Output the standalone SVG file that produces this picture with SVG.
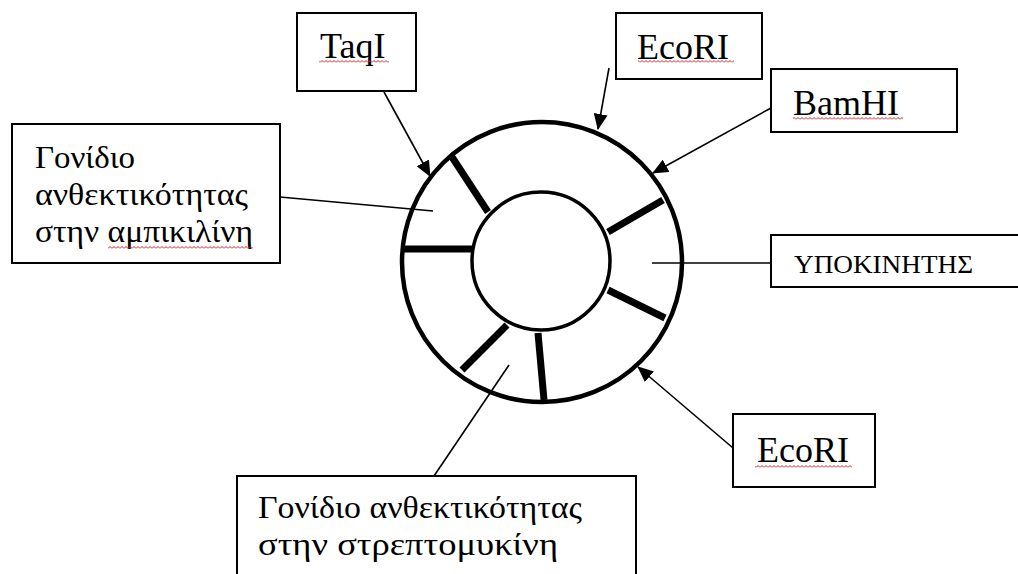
<svg xmlns="http://www.w3.org/2000/svg" width="1018" height="574" viewBox="0 0 1018 574">
<style>
.box{fill:#fff;stroke:#000;stroke-width:2}
.t{font-family:"Liberation Serif","Times New Roman",serif;font-size:36px;fill:#000}
.g{font-family:"Liberation Serif","Tinos","Noto Serif","FreeSerif","Times New Roman","DejaVu Serif",serif;font-size:31px;fill:#000}
.ts{font-size:25px}
.ln{stroke:#000;stroke-width:1.6;fill:none}
.spoke{stroke:#000;stroke-width:7;stroke-linecap:butt}
.ring{fill:none;stroke:#000}
</style>
<defs>
<marker id="ah" markerUnits="userSpaceOnUse" markerWidth="16" markerHeight="14" refX="15" refY="7" orient="auto">
<path d="M0,0 L16,7 L0,14 z" fill="#000"/>
</marker>
<pattern id="wave" width="4" height="3" patternUnits="userSpaceOnUse">
<path d="M0,2.5 L2,0.5 L4,2.5" stroke="#d02020" stroke-width="1" fill="none"/>
</pattern>
</defs>
<rect width="1018" height="574" fill="#fff"/>

<g id="plasmid">
<circle class="ring" cx="542" cy="262" r="140" stroke-width="4.5"/>
<circle class="ring" cx="541" cy="261" r="69" stroke-width="3.5"/>
<line class="spoke" x1="452" y1="157" x2="488" y2="212"/>
<line class="spoke" x1="402" y1="249" x2="472" y2="249"/>
<line class="spoke" x1="663" y1="200" x2="608" y2="232"/>
<line class="spoke" x1="608" y1="290" x2="665" y2="318"/>
<line class="spoke" x1="507" y1="325" x2="462" y2="370"/>
<line class="spoke" x1="538" y1="333" x2="544" y2="400"/>
</g>

<g id="connectors">
<line class="ln" x1="384" y1="92" x2="430" y2="176" marker-end="url(#ah)"/>
<line class="ln" x1="609" y1="68" x2="598" y2="129" marker-end="url(#ah)"/>
<line class="ln" x1="771" y1="108" x2="653" y2="173" marker-end="url(#ah)"/>
<line class="ln" x1="733" y1="448" x2="638" y2="367" marker-end="url(#ah)"/>
<line class="ln" x1="280" y1="197" x2="433" y2="211"/>
<line class="ln" x1="652" y1="263" x2="771" y2="263"/>
<line class="ln" x1="434" y1="476" x2="509" y2="365"/>
</g>

<g id="taqi">
<rect class="box" x="297" y="13" width="119" height="78"/>
<text class="t" x="320" y="58">TaqI</text>
<rect x="319" y="60" width="70" height="3" fill="url(#wave)"/>
</g>

<g id="ecori-top">
<rect class="box" x="616" y="13" width="146" height="66"/>
<text class="t" x="637" y="59">EcoRI</text>
<rect x="638" y="60" width="96" height="3" fill="url(#wave)"/>
</g>

<g id="bamhi">
<rect class="box" x="771" y="69" width="186" height="63"/>
<text class="t" x="793" y="115">BamHI</text>
<rect x="793" y="117" width="110" height="3" fill="url(#wave)"/>
</g>

<g id="ampicillin">
<rect class="box" x="12" y="124" width="268" height="139"/>
<text class="g" x="35" y="168" textLength="100" lengthAdjust="spacingAndGlyphs">Γονίδιο</text>
<text class="g" x="35" y="205" textLength="213" lengthAdjust="spacingAndGlyphs">ανθεκτικότητας</text>
<text class="g" x="35" y="242" textLength="218" lengthAdjust="spacingAndGlyphs">στην αμπικιλίνη</text>
<rect x="108" y="246" width="145" height="3" fill="url(#wave)"/>
</g>

<g id="promoter">
<rect class="box" x="771" y="235" width="260" height="52"/>
<text class="g ts" x="794" y="273" textLength="179" lengthAdjust="spacingAndGlyphs">ΥΠΟΚΙΝΗΤΗΣ</text>
</g>

<g id="ecori-bottom">
<rect class="box" x="733" y="414" width="142" height="73"/>
<text class="t" x="757" y="462">EcoRI</text>
<rect x="755" y="465" width="97" height="3" fill="url(#wave)"/>
</g>

<g id="streptomycin">
<rect class="box" x="237" y="476" width="399" height="110"/>
<text class="g" x="258" y="518" textLength="324" lengthAdjust="spacingAndGlyphs">Γονίδιο ανθεκτικότητας</text>
<text class="g" x="258" y="555" textLength="300" lengthAdjust="spacingAndGlyphs">στην στρεπτομυκίνη</text>
</g>
</svg>
